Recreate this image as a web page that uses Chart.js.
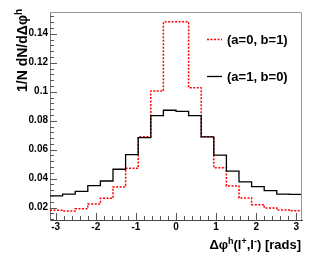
<!DOCTYPE html>
<html>
<head>
<meta charset="utf-8">
<script src="https://cdn.jsdelivr.net/npm/chart.js@4"></script>
<style>
  html, body { margin: 0; padding: 0; background: #fff; }
  canvas { display: block; }
</style>
</head>
<body>
<canvas id="myChart" width="315" height="261"></canvas>
<script>
"use strict";

// bin edges in rads (20 bins over -pi..pi)
const binEdges = [-3.1416, -2.8274, -2.5133, -2.1991, -1.8850, -1.5708, -1.2566, -0.9425, -0.6283, -0.3142,
  0, 0.3142, 0.6283, 0.9425, 1.2566, 1.5708, 1.8850, 2.1991, 2.5133, 2.8274, 3.1416];

// (a=0, b=1) red dotted
const redValues = [0.0182, 0.0177, 0.0193, 0.0226, 0.0265, 0.0343, 0.0472, 0.0690, 0.1005, 0.1482,
  0.1482, 0.1028, 0.0689, 0.0476, 0.0350, 0.0267, 0.0221, 0.0198, 0.0184, 0.0179];

// (a=1, b=0) black solid
const blackValues = [0.0281, 0.0294, 0.0313, 0.0352, 0.0384, 0.0465, 0.0566, 0.0683, 0.0835, 0.0872,
  0.0865, 0.0835, 0.0689, 0.0563, 0.0452, 0.0378, 0.0345, 0.0317, 0.0294, 0.0292];

const xTicks = [-3, -2, -1, 0, 1, 2, 3];
const yTicks = [0.02, 0.04, 0.06, 0.08, 0.1, 0.12, 0.14];
const seriesLabels = ['(a=0, b=1)', '(a=1, b=0)'];

const FONT = '"Liberation Sans", Arial, Helvetica, sans-serif';

// histogram outline: left edge of each bin, plus the last right edge
function toSteps(values) {
  const pts = values.map((v, i) => ({x: binEdges[i], y: v}));
  pts.push({x: binEdges[binEdges.length - 1], y: values[values.length - 1]});
  return pts;
}

// draw runs of text with superscripts, right-aligned at x; parts = [[text, isSup], ...]
function drawParts(c, parts, size, x, y, rise) {
  const big = 'bold ' + size + 'px ' + FONT;
  const small = 'bold ' + Math.round(size * 0.7) + 'px ' + FONT;
  let w = 0;
  parts.forEach(p => { c.font = p[1] ? small : big; w += c.measureText(p[0]).width; });
  let cx = x - w;
  parts.forEach(p => {
    c.font = p[1] ? small : big;
    c.fillText(p[0], cx, p[1] ? y - size * rise : y);
    cx += c.measureText(p[0]).width;
  });
}

const rootStyle = {
  id: 'rootStyle',
  afterDraw(chart) {
    const c = chart.ctx;
    const a = chart.chartArea;
    const xs = chart.scales.x, ys = chart.scales.y;
    c.save();

    // frame top/right
    c.strokeStyle = '#999';
    c.lineWidth = 1;
    c.beginPath();
    c.moveTo(a.left, a.top + 0.5);
    c.lineTo(a.right - 0.5, a.top + 0.5);
    c.lineTo(a.right - 0.5, a.bottom);
    c.stroke();

    // inside ticks
    c.strokeStyle = '#555';
    c.beginPath();
    for (let v = -3; v <= 3.0001; v += 0.2) {
      const px = Math.round(xs.getPixelForValue(v)) + 0.5;
      const major = Math.abs(v - Math.round(v)) < 1e-6;
      c.moveTo(px, a.bottom);
      c.lineTo(px, a.bottom - (major ? 7 : 4));
    }
    for (let v = 0.012; v <= 0.1551; v += 0.004) {
      const py = Math.round(ys.getPixelForValue(v)) + 0.5;
      const major = Math.abs(v / 0.02 - Math.round(v / 0.02)) < 1e-6;
      c.moveTo(a.left, py);
      c.lineTo(a.left + (major ? 7 : 4), py);
    }
    c.stroke();

    // axis titles
    c.fillStyle = '#000';
    c.textBaseline = 'alphabetic';
    c.textAlign = 'left';
    drawParts(c, [['\u0394\u03c6', false], ['h', true], ['(l', false], ['+', true], [',l', false], ['-', true], [') [rads]', false]], 13, 301, 249, 0.42);

    c.save();
    c.translate(26.5, 9);
    c.rotate(-Math.PI / 2);
    drawParts(c, [['1/N dN/d\u0394\u03c6', false], ['h', true]], 14, 0, 0, 0.3);
    c.restore();

    // legend
    const rows = [39.5, 76.5];
    chart.data.datasets.forEach((ds, i) => {
      c.strokeStyle = ds.borderColor;
      c.lineWidth = ds.borderWidth;
      c.setLineDash(ds.borderDash || []);
      c.beginPath();
      c.moveTo(207, rows[i]);
      c.lineTo(222, rows[i]);
      c.stroke();
      c.setLineDash([]);
      c.font = 'bold 13px ' + FONT;
      c.textBaseline = 'middle';
      c.fillText(ds.label, 227, rows[i] + 0.5);
    });
    c.restore();
  }
};

const ctx = document.getElementById('myChart').getContext('2d');
const chart = new Chart(ctx, {
  type: 'line',
  data: {
    datasets: [
      {
        label: seriesLabels[0],
        data: toSteps(redValues),
        borderColor: '#ff0000',
        borderWidth: 1.5,
        borderDash: [2, 1.5],
        stepped: true,
        pointRadius: 0,
        fill: false,
        order: 1
      },
      {
        label: seriesLabels[1],
        data: toSteps(blackValues),
        borderColor: '#000000',
        borderWidth: 1.3,
        stepped: true,
        pointRadius: 0,
        fill: false,
        order: 0
      }
    ]
  },
  options: {
    responsive: false,
    animation: false,
    devicePixelRatio: 1,
    layout: { padding: { left: 0, right: 13, top: 12, bottom: 0 } },
    plugins: { legend: { display: false }, tooltip: { enabled: false } },
    scales: {
      x: {
        type: 'linear',
        min: binEdges[0],
        max: binEdges[binEdges.length - 1],
        afterBuildTicks: s => { s.ticks = xTicks.map(v => ({value: v})); },
        afterFit: s => { s.height = 41; },
        grid: { display: false, drawTicks: false, tickLength: 0 },
        border: { color: '#444', width: 1 },
        ticks: {
          padding: 1,
          color: '#000',
          font: { family: FONT, size: 10, weight: 'bold' },
          maxRotation: 0,
          autoSkip: false,
          callback: v => String(v)
        }
      },
      y: {
        min: 0.0115,
        max: 0.155,
        afterBuildTicks: s => { s.ticks = yTicks.map(v => ({value: v})); },
        afterFit: s => { s.width = 50; },
        grid: { display: false, drawTicks: false, tickLength: 0 },
        border: { color: '#777', width: 1 },
        ticks: {
          padding: 2,
          color: '#000',
          font: { family: FONT, size: 10, weight: 'bold' },
          autoSkip: false,
          callback: v => String(Number(v.toFixed(2)))
        }
      }
    }
  },
  plugins: [rootStyle]
});
</script>
</body>
</html>
